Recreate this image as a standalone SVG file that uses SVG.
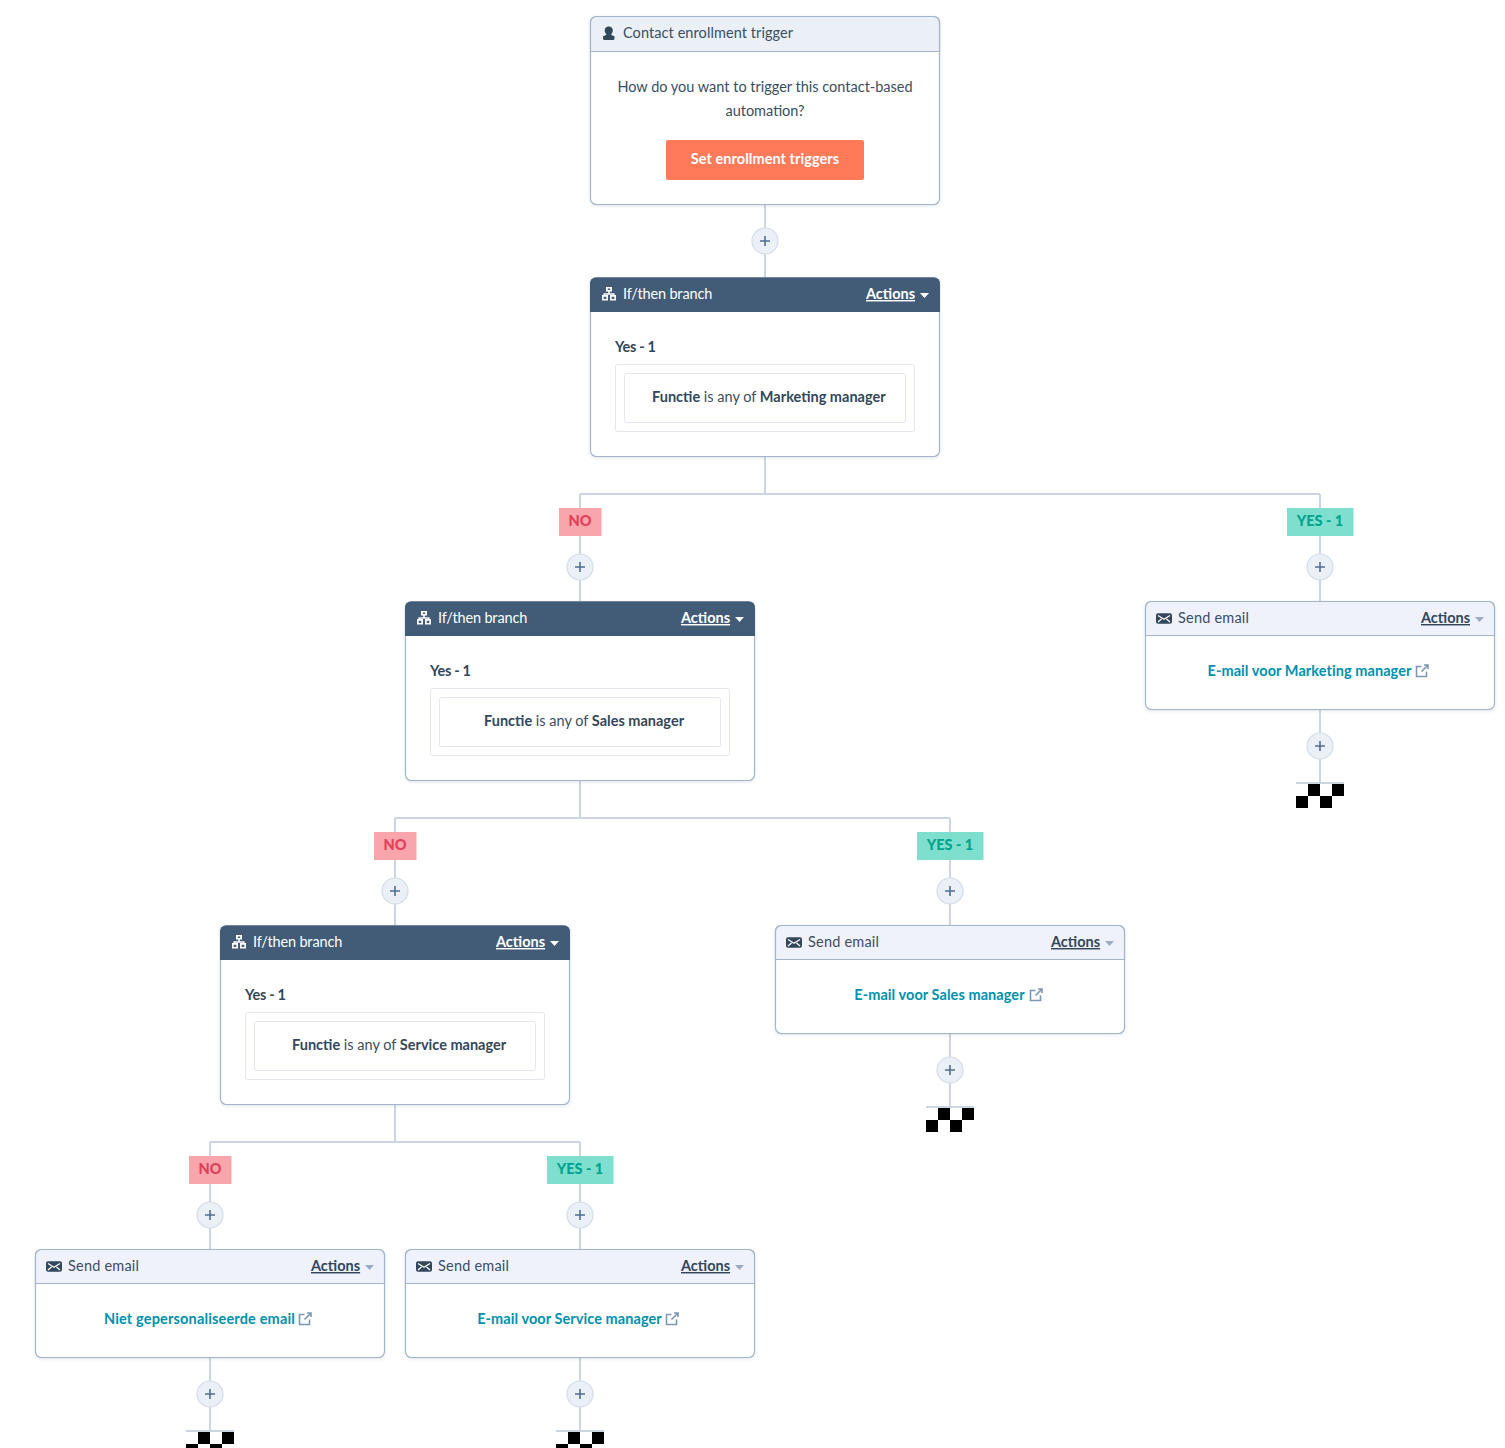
<svg xmlns="http://www.w3.org/2000/svg" width="1505" height="1448" viewBox="0 0 1505 1448">
<style>
text{font-family:"Lato","Liberation Sans",sans-serif;font-size:14.5px;fill:#3a4e63}
.card{fill:#fff;stroke:#a3b5c9;stroke-width:1.2;filter:url(#soft)}
.cap{stroke:#a3b5c9;stroke-width:1.2}
.dark{fill:#425b76}.pale{fill:#eaf0f6}.lav{fill:#f0f2fb}
text.w{fill:#fff}
.b{font-weight:700;fill:#33475b}
.ul{font-weight:700;text-decoration:underline;fill:#33475b}
text.link{fill:#0091ae;font-weight:700;text-anchor:middle;letter-spacing:.07px}
.mid{text-anchor:middle}
.lbl{font-weight:900;font-size:14.5px;text-anchor:middle}
.wire{fill:none;stroke:#cbd6e2;stroke-width:2}
.outer{fill:#fff;stroke:#e3e7ee}
.no{fill:#f8a5ab}.yes{fill:#7fdfcf}
text.nt{fill:#e0405a}text.yt{fill:#00a38d}
.send{letter-spacing:.2px}.brn{letter-spacing:-.15px}.yes1{letter-spacing:-.3px}
</style>
<defs>
<filter id="soft" x="-5%" y="-5%" width="110%" height="115%"><feDropShadow dx="0" dy="1" stdDeviation="1.500" flood-color="#33475b" flood-opacity=".14"/></filter>
<g id="plus"><circle r="13" fill="#eaf0f6" stroke="#d3dde8" stroke-width="1.2"/><path d="M-5 0H5M0-5V5" stroke="#506e91" stroke-width="1.6" fill="none"/></g>
<g id="end"><path d="M-24-1H24" stroke="#cbd6e2" stroke-width="2" fill="none"/><path d="M-12 0H0V12H-12ZM12 0H24V12H12ZM-24 12H-12V24H-24ZM0 12H12V24H0Z" fill="#000" stroke="none"/></g>
<g id="tree"><path fill-rule="evenodd" d="M-3-7H3V-2.500H.8V-.7H5.500V1H7V6.500H1V1H4V.7H-4V1H-1V6.500H-7V1H-5.500V-.7H-.8V-2.500H-3ZM-1.200-5.500V-4H1.200V-5.500ZM-5.300 2.800V5H-2.700V2.800ZM2.700 2.800V5H5.300V2.800Z"/></g>
<g id="mail"><rect x="-8" y="-5.300" width="16" height="10.600" rx="2"/><path d="M-6-3 0 .8 6-3M-6 3.500-2.500 .5M6 3.500 2.500 .5" fill="none" stroke="#fff" stroke-width="1.300"/></g>
<g id="ext" fill="none" stroke="#7c98b6" stroke-width="1.600"><path d="M-1-4.500H-6V5.500H4V.5M-1 .5 5.500-6M1.500-6H5.500V-2"/></g>
</defs>

<g id="connectors" class="wire">
<path d="M765 205V277M765 457V494M580 494H1320M580 494V601M1320 494V601M1320 710V783"/>
<path d="M580 781V818M395 818H950M395 818V925M950 818V925M950 1034V1107"/>
<path d="M395 1105V1142M210 1142H580M210 1142V1249M580 1142V1249M210 1358V1431M580 1358V1431"/>
<use href="#plus" x="765" y="241"/><use href="#plus" x="580" y="567"/><use href="#plus" x="1320" y="567"/><use href="#plus" x="1320" y="746"/>
<use href="#plus" x="395" y="891"/><use href="#plus" x="950" y="891"/><use href="#plus" x="950" y="1070"/>
<use href="#plus" x="210" y="1215"/><use href="#plus" x="580" y="1215"/><use href="#plus" x="210" y="1394"/><use href="#plus" x="580" y="1394"/>
<use href="#end" x="1320" y="784"/><use href="#end" x="950" y="1108"/><use href="#end" x="210" y="1432"/><use href="#end" x="580" y="1432"/>
</g>

<g id="labels">
<rect class="no" x="559" y="508" width="42.500" height="28"/><text class="lbl nt" x="580" y="526">NO</text>
<rect class="yes" x="1287" y="508" width="66.500" height="28"/><text class="lbl yt" x="1320" y="526">YES - 1</text>
<rect class="no" x="374" y="832" width="42.500" height="28"/><text class="lbl nt" x="395" y="850">NO</text>
<rect class="yes" x="917" y="832" width="66.500" height="28"/><text class="lbl yt" x="950" y="850">YES - 1</text>
<rect class="no" x="189" y="1156" width="42.500" height="28"/><text class="lbl nt" x="210" y="1174">NO</text>
<rect class="yes" x="547" y="1156" width="66.500" height="28"/><text class="lbl yt" x="580" y="1174">YES - 1</text>
</g>

<g id="trigger">
<rect class="card" x="590.500" y="16.500" width="349" height="188" rx="6"/>
<path class="pale cap" d="M590.500 51.500V22.500a6 6 0 0 1 6-6H933.500a6 6 0 0 1 6 6V51.500Z"/>
<path d="M609 26.500a3.800 3.800 0 0 1 3.800 4c0 1.500-.6 2.800-1.500 3.500v.9l3.200 1.300v2.300a1.500 1.500 0 0 1-1.500 1.500H604.500a1.500 1.500 0 0 1-1.500-1.500v-2.300l3.200-1.300V34c-.9-.7-1.500-2-1.500-3.500A3.800 3.800 0 0 1 609 26.500Z" fill="#33475b"/>
<text x="623" y="38" style="letter-spacing:.08px">Contact enrollment trigger</text>
<text class="mid" x="765" y="92">How do you want to trigger this contact-based</text>
<text class="mid" x="765" y="116">automation?</text>
<rect x="666" y="140" width="198" height="40" rx="2" fill="#ff7a59"/>
<text class="b mid" x="765" y="164" style="fill:#fff;letter-spacing:.05px">Set enrollment triggers</text>
</g>

<g id="branch-marketing">
<rect class="card" x="590.500" y="277.500" width="349" height="179" rx="6"/>
<path class="dark" d="M590 312V283.500a6 6 0 0 1 6-6H934a6 6 0 0 1 6 6V312Z"/>
<use href="#tree" x="609" y="294" fill="#fff"/>
<text class="w brn" x="623" y="299">If/then branch</text>
<text class="w ul" x="866" y="299">Actions</text><path d="M920 293H929L924.500 298Z" fill="#fff"/>
<text class="b yes1" x="615" y="352">Yes - 1</text>
<rect class="outer" x="615.500" y="364.500" width="299" height="67" rx="2"/><rect class="outer" x="624.500" y="373.500" width="281" height="49" rx="2"/>
<text x="652" y="402"><tspan class="b">Functie</tspan> is any of <tspan class="b">Marketing manager</tspan></text>
</g>

<g id="branch-sales">
<rect class="card" x="405.500" y="601.500" width="349" height="179" rx="6"/>
<path class="dark" d="M405 636V607.500a6 6 0 0 1 6-6H749a6 6 0 0 1 6 6V636Z"/>
<use href="#tree" x="424" y="618" fill="#fff"/>
<text class="w brn" x="438" y="623">If/then branch</text>
<text class="w ul" x="681" y="623">Actions</text><path d="M735 617H744L739.500 622Z" fill="#fff"/>
<text class="b yes1" x="430" y="676">Yes - 1</text>
<rect class="outer" x="430.500" y="688.500" width="299" height="67" rx="2"/><rect class="outer" x="439.500" y="697.500" width="281" height="49" rx="2"/>
<text x="484" y="726"><tspan class="b">Functie</tspan> is any of <tspan class="b">Sales manager</tspan></text>
</g>

<g id="branch-service">
<rect class="card" x="220.500" y="925.500" width="349" height="179" rx="6"/>
<path class="dark" d="M220 960V931.500a6 6 0 0 1 6-6H564a6 6 0 0 1 6 6V960Z"/>
<use href="#tree" x="239" y="942" fill="#fff"/>
<text class="w brn" x="253" y="947">If/then branch</text>
<text class="w ul" x="496" y="947">Actions</text><path d="M550 941H559L554.500 946Z" fill="#fff"/>
<text class="b yes1" x="245" y="1000">Yes - 1</text>
<rect class="outer" x="245.500" y="1012.500" width="299" height="67" rx="2"/><rect class="outer" x="254.500" y="1021.500" width="281" height="49" rx="2"/>
<text x="292" y="1050"><tspan class="b">Functie</tspan> is any of <tspan class="b">Service manager</tspan></text>
</g>

<g id="email-marketing">
<rect class="card" x="1145.500" y="601.500" width="349" height="108" rx="6"/>
<path class="lav cap" d="M1145.500 635.500V607.500a6 6 0 0 1 6-6H1488.500a6 6 0 0 1 6 6V635.500Z"/>
<use href="#mail" x="1164" y="618.500" fill="#33475b"/>
<text class="send" x="1178" y="623">Send email</text>
<text class="ul" x="1421" y="623">Actions</text><path d="M1475 617H1484L1479.500 622Z" fill="#99acc2"/>
<text class="link" x="1309.500" y="676">E-mail voor Marketing manager</text><use href="#ext" x="1422.500" y="671"/>
</g>

<g id="email-sales">
<rect class="card" x="775.500" y="925.500" width="349" height="108" rx="6"/>
<path class="lav cap" d="M775.500 959.500V931.500a6 6 0 0 1 6-6H1118.500a6 6 0 0 1 6 6V959.500Z"/>
<use href="#mail" x="794" y="942.500" fill="#33475b"/>
<text class="send" x="808" y="947">Send email</text>
<text class="ul" x="1051" y="947">Actions</text><path d="M1105 941H1114L1109.500 946Z" fill="#99acc2"/>
<text class="link" x="939.500" y="1000">E-mail voor Sales manager</text><use href="#ext" x="1036.500" y="995"/>
</g>

<g id="email-none">
<rect class="card" x="35.500" y="1249.500" width="349" height="108" rx="6"/>
<path class="lav cap" d="M35.500 1283.500V1255.500a6 6 0 0 1 6-6H378.500a6 6 0 0 1 6 6V1283.500Z"/>
<use href="#mail" x="54" y="1266.500" fill="#33475b"/>
<text class="send" x="68" y="1271">Send email</text>
<text class="ul" x="311" y="1271">Actions</text><path d="M365 1265H374L369.500 1270Z" fill="#99acc2"/>
<text class="link" x="199.500" y="1324" style="letter-spacing:.16px">Niet gepersonaliseerde email</text><use href="#ext" x="305.500" y="1319"/>
</g>

<g id="email-service">
<rect class="card" x="405.500" y="1249.500" width="349" height="108" rx="6"/>
<path class="lav cap" d="M405.500 1283.500V1255.500a6 6 0 0 1 6-6H748.500a6 6 0 0 1 6 6V1283.500Z"/>
<use href="#mail" x="424" y="1266.500" fill="#33475b"/>
<text class="send" x="438" y="1271">Send email</text>
<text class="ul" x="681" y="1271">Actions</text><path d="M735 1265H744L739.500 1270Z" fill="#99acc2"/>
<text class="link" x="569.500" y="1324">E-mail voor Service manager</text><use href="#ext" x="672.500" y="1319"/>
</g>
</svg>
